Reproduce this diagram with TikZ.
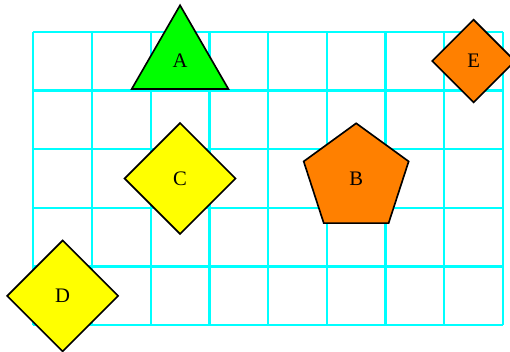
\documentclass[tikz,border=0pt]{standalone}
\usepackage{fontspec}
\setmainfont{Liberation Serif}
\usepackage{tikz}
\usetikzlibrary{shapes.geometric, positioning}
\usepackage{xcolor}
\definecolor{GridCyan}{RGB}{0,255,255}
\definecolor{FillGreen}{RGB}{0,255,0}
\definecolor{FillYellow}{RGB}{255,255,0}
\definecolor{FillOrange}{RGB}{255,128,0}

\begin{document}
\begin{tikzpicture}[
  figbox/.style={
    draw=black,
    line width=0.8pt,
    inner sep=0pt,
    align=center
  },
  tri/.style={figbox, regular polygon, regular polygon sides=3, minimum size=1.9cm},
  penta/.style={figbox, regular polygon, regular polygon sides=5, minimum size=1.88cm},
  rhomb/.style={figbox, diamond, minimum size=1.9cm},
  gridline/.style={GridCyan, line width=1.1pt}
]

\useasboundingbox (-0.567,-0.455) rectangle (8.12,5.54);

\draw[gridline] (0,0) grid (8,5);

\node[tri, fill=FillGreen] (A) at (2.5,4.5) {A};

\node[penta, fill=FillOrange] (B) at (5.5,2.5) {B};

\node[rhomb, fill=FillYellow] (C) at (2.5,2.5) {C};

\node[rhomb, fill=FillYellow] (D) at (0.5,0.5) {D};

\node[rhomb, fill=FillOrange, minimum size=1.42cm] (E) at (7.5,4.5) {E};

\end{tikzpicture}
\end{document}
